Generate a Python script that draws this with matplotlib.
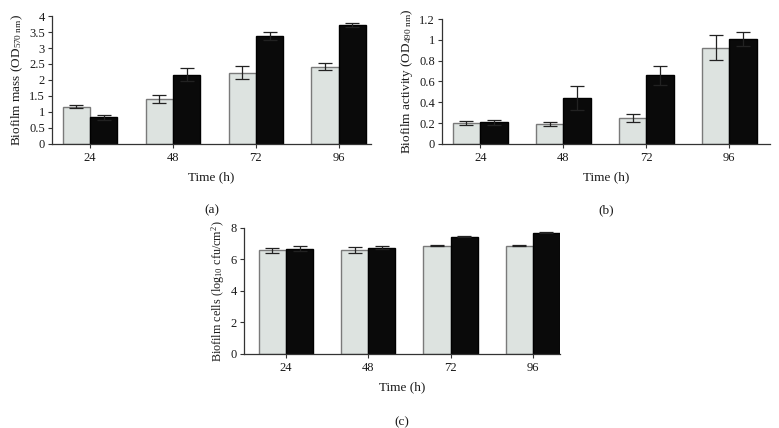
import numpy as np
import matplotlib.pyplot as plt

plt.rcParams['font.family'] = ['Liberation Serif', 'DejaVu Serif']
plt.rcParams['mathtext.fontset'] = 'stix'

# Data
times = ['24', '48', '72', '96']

mass_light = [1.16, 1.41, 2.23, 2.42]
mass_light_err = [0.05, 0.135, 0.2, 0.12]
mass_dark = [0.83, 2.17, 3.38, 3.73]
mass_dark_err = [0.09, 0.19, 0.13, 0.06]

act_light = [0.205, 0.195, 0.25, 0.925]
act_light_err = [0.018, 0.02, 0.035, 0.12]
act_dark = [0.21, 0.44, 0.66, 1.01]
act_dark_err = [0.025, 0.115, 0.09, 0.07]

cells_light = [6.6, 6.62, 6.88, 6.86]
cells_light_err = [0.16, 0.18, 0.02, 0.03]
cells_dark = [6.69, 6.76, 7.45, 7.7]
cells_dark_err = [0.15, 0.1, 0.03, 0.03]

light_color = '#dde3e0'
light_edge = '#7a7a7a'
dark_color = '#0a0a0a'

fig = plt.figure(figsize=(7.79, 4.28), dpi=100)


def draw_panel(rect, light, light_err, dark, dark_err, ylim, yticks, yticklabels,
               ylabel, ylabel_size, xlim, letter, letter_off):
    ax = fig.add_axes(rect)
    x = np.arange(len(times))
    w = 0.33
    ax.bar(x - w / 2, light, w, color=light_color, edgecolor=light_edge, linewidth=1.0,
           zorder=2)
    ax.bar(x + w / 2, dark, w, color=dark_color, edgecolor='black', linewidth=1.0,
           zorder=2)
    ax.errorbar(x - w / 2, light, yerr=light_err, fmt='none', ecolor='#222222',
                elinewidth=0.9, capsize=5, capthick=0.9, zorder=3)
    ax.errorbar(x + w / 2, dark, yerr=dark_err, fmt='none', ecolor='#222222',
                elinewidth=0.9, capsize=5, capthick=0.9, zorder=3)
    ax.set_xlim(*xlim)
    ax.set_ylim(*ylim)
    ax.set_yticks(yticks)
    ax.set_yticklabels(yticklabels)
    ax.set_xticks(x)
    ax.set_xticklabels(times)
    for s in ['top', 'right']:
        ax.spines[s].set_visible(False)
    for s in ['left', 'bottom']:
        ax.spines[s].set_linewidth(0.9)
        ax.spines[s].set_color('#333333')
    ax.tick_params(axis='both', labelsize=9, length=3, width=0.8, colors='#333333',
                   labelcolor='#1a1a1a', pad=2)
    ax.tick_params(axis='x', length=3, pad=3)
    ax.set_ylabel(ylabel, fontsize=ylabel_size, labelpad=3, color='#1a1a1a')
    ax.set_xlabel('Time (h)', fontsize=9.5, labelpad=5, color='#1a1a1a')
    ax.annotate(letter, xy=(0.5, 0), xycoords='axes fraction', xytext=(0, -letter_off),
                textcoords='offset pixels', ha='center', va='center',
                fontsize=9.5, color='#1a1a1a')
    return ax


draw_panel([0.0668, 0.6636, 0.4095, 0.299], mass_light, mass_light_err, mass_dark,
           mass_dark_err, (0, 4), np.arange(0, 4.01, 0.5),
           ['0', '0.5', '1', '1.5', '2', '2.5', '3', '3.5', '4'],
           r'Biofilm mass (OD$_{\mathregular{570\ nm}}$)', 9.5, (-0.46, 3.39), '(a)', 66)

draw_panel([0.5674, 0.6636, 0.421, 0.292], act_light, act_light_err, act_dark,
           act_dark_err, (0, 1.2), np.arange(0, 1.21, 0.2),
           ['0', '0.2', '0.4', '0.6', '0.8', '1', '1.2'],
           r'Biofilm activity (OD$_{\mathregular{490\ nm}}$)', 9.5, (-0.46, 3.49), '(b)', 66)

draw_panel([0.3132, 0.1729, 0.4056, 0.2944], cells_light, cells_light_err, cells_dark,
           cells_dark_err, (0, 8), [0, 2, 4, 6, 8], ['0', '2', '4', '6', '8'],
           r'Biofilm cells (log$_{\mathregular{10}}$ cfu/cm$^{\mathregular{2}}$)', 8.7,
           (-0.51, 3.33), '(c)', 68)

fig.savefig('out.png', dpi=100)
